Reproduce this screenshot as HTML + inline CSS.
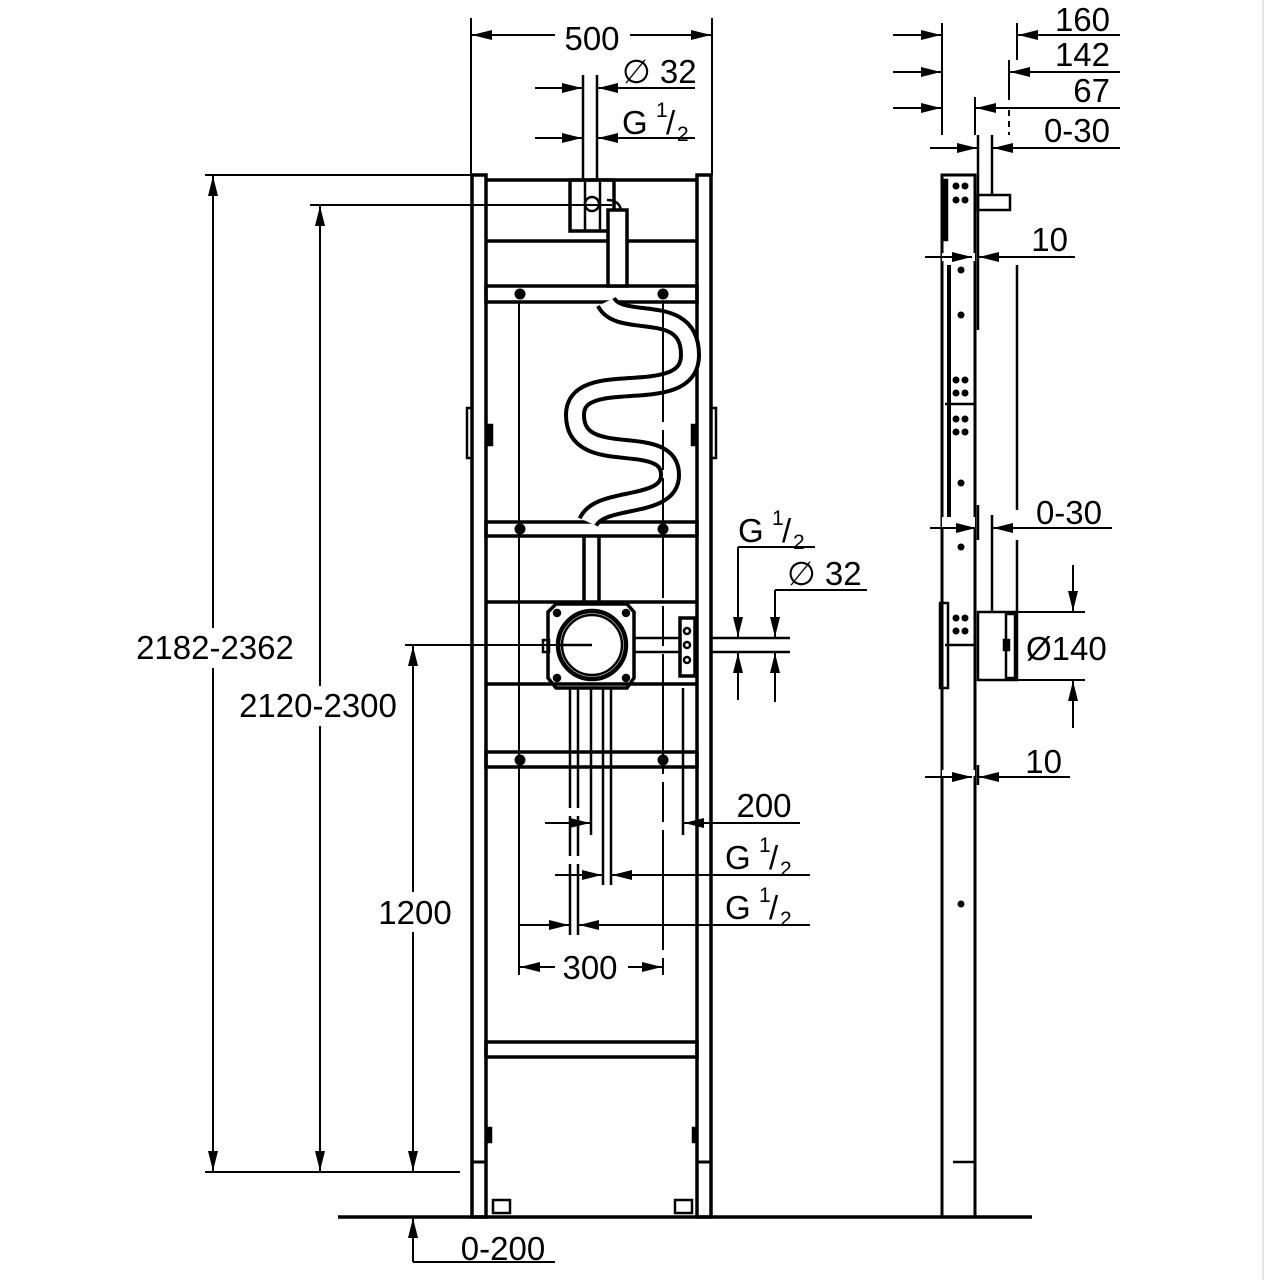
<!DOCTYPE html>
<html><head><meta charset="utf-8"><style>
html,body{margin:0;padding:0;background:#fff}
svg{display:block}
text{font-family:"Liberation Sans",Arial,sans-serif;font-size:33px;fill:#000}
.s{font-size:21px}
</style></head><body>
<svg width="1280" height="1280" viewBox="0 0 1280 1280" xmlns="http://www.w3.org/2000/svg">
<defs>
<marker id="a" viewBox="0 0 20 10" refX="20" refY="5" markerWidth="20" markerHeight="10" markerUnits="userSpaceOnUse" orient="auto"><path d="M0,0L20,5L0,10z" fill="#000"/></marker>
</defs>
<rect width="1280" height="1280" fill="#fff"/>
<line x1="1263" y1="0" x2="1263" y2="1280" stroke="#ccc" stroke-width="1"/>
<g stroke="#000" fill="none" stroke-width="2.5">
<line x1="338" y1="1217" x2="1032" y2="1217" stroke-width="3.5"/>
<rect x="472" y="175" width="14" height="1042" stroke-width="3.5"/>
<rect x="697" y="175" width="14" height="1042" stroke-width="3.5"/>
<line x1="472" y1="1162" x2="486" y2="1162" stroke-width="3"/>
<line x1="697" y1="1162" x2="711" y2="1162" stroke-width="3"/>
<rect x="467" y="408" width="5" height="50"/><rect x="711" y="408" width="5" height="50"/>
<rect x="487" y="425" width="5" height="20" fill="#000"/><rect x="692" y="425" width="5" height="20" fill="#000"/>
<rect x="487" y="1128" width="4" height="14" fill="#000"/><rect x="693" y="1128" width="4" height="14" fill="#000"/>
<rect x="493" y="1200" width="17" height="13"/><rect x="675" y="1200" width="17" height="13"/>
<line x1="486" y1="180" x2="697" y2="180" stroke-width="3.5"/>
<line x1="486" y1="241" x2="697" y2="241" stroke-width="3.5"/>
<rect x="486" y="286" width="211" height="16" stroke-width="3.5"/>
<rect x="486" y="522" width="211" height="14" stroke-width="3.5"/>
<line x1="486" y1="602" x2="697" y2="602" stroke-width="3.5"/>
<line x1="486" y1="684" x2="697" y2="684" stroke-width="3.5"/>
<rect x="486" y="752" width="211" height="15" stroke-width="3.5"/>
<rect x="486" y="1042" width="211" height="15" stroke-width="3.5"/>
<rect x="570" y="180" width="44" height="51" stroke-width="3.5"/>
<line x1="585" y1="182" x2="585" y2="230"/><line x1="600" y1="182" x2="600" y2="230"/>
<circle cx="592" cy="204" r="7"/>
<rect x="608" y="210" width="19" height="76" fill="#fff" stroke-width="3.5"/>
<path d="M607,200 q12,0 14,10"/>
<line x1="583" y1="75" x2="583" y2="180"/><line x1="597" y1="75" x2="597" y2="180"/>
<path d="M606,302 C620,330 690,300 690,355 C690,410 575,365 575,415 C575,470 670,430 670,475 C670,510 600,495 588,522" stroke-width="22"/>
<path d="M606,302 C620,330 690,300 690,355 C690,410 575,365 575,415 C575,470 670,430 670,475 C670,510 600,495 588,522" stroke="#fff" stroke-width="14"/>
<line x1="519" y1="302" x2="519" y2="975" stroke-width="2"/>
<line x1="663" y1="302" x2="663" y2="975" stroke-width="2" stroke-dasharray="120,8,40,8"/>
<line x1="584" y1="536" x2="584" y2="602" stroke-width="3.5"/><line x1="599" y1="536" x2="599" y2="602" stroke-width="3.5"/>
<path d="M556,604 L627,604 L634,612 L634,678 L627,688 L556,688 L548,678 L548,612 Z" stroke-width="3.5"/>
<circle cx="592" cy="645" r="34" stroke-width="4.5"/>
<circle cx="592" cy="645" r="30"/>
<rect x="543" y="640" width="6" height="12"/>
<circle cx="557" cy="613" r="3" fill="#000"/><circle cx="626" cy="613" r="3" fill="#000"/>
<circle cx="557" cy="678" r="3" fill="#000"/><circle cx="626" cy="678" r="3" fill="#000"/>
<line x1="560" y1="645" x2="592" y2="645"/>
<rect x="680" y="618" width="15" height="58" stroke-width="3.5"/>
<circle cx="687" cy="631" r="3"/><circle cx="687" cy="645" r="3"/><circle cx="687" cy="660" r="3"/>
<line x1="634" y1="638" x2="680" y2="638"/><line x1="634" y1="652" x2="680" y2="652"/>
<line x1="711" y1="638" x2="790" y2="638"/><line x1="711" y1="652" x2="790" y2="652"/>
<line x1="570" y1="688" x2="570" y2="935" stroke-dasharray="120,8,40,8"/>
<line x1="578" y1="688" x2="578" y2="935" stroke-dasharray="120,8,40,8"/>
<line x1="591" y1="688" x2="591" y2="835"/>
<line x1="603" y1="688" x2="603" y2="885"/><line x1="611" y1="688" x2="611" y2="885"/>
<line x1="683" y1="688" x2="683" y2="835"/>
</g>
<g fill="#000">
<circle cx="520" cy="294" r="5.5"/><circle cx="663" cy="294" r="5.5"/>
<circle cx="520" cy="529" r="5.5"/><circle cx="663" cy="529" r="5.5"/>
<circle cx="520" cy="760" r="5.5"/><circle cx="663" cy="760" r="5.5"/>
</g>

<g stroke="#000" fill="none" stroke-width="2.5">
<rect x="942" y="175" width="33" height="1042" stroke-width="3"/>
<line x1="949" y1="265" x2="949" y2="522" stroke-width="4"/>
<rect x="942" y="180" width="5" height="60" fill="#000"/>
<line x1="942" y1="257" x2="975" y2="257" stroke="#fff" stroke-width="8"/>
<line x1="942" y1="522" x2="975" y2="522" stroke="#fff" stroke-width="10"/>
<line x1="942" y1="773" x2="975" y2="773" stroke="#fff" stroke-width="6"/>
<line x1="945" y1="404" x2="975" y2="404"/>
<line x1="953" y1="1162" x2="975" y2="1162"/>
<rect x="978" y="195" width="32" height="15"/>
<line x1="978" y1="135" x2="978" y2="330"/>
<line x1="992" y1="135" x2="992" y2="195"/>
<rect x="978" y="612" width="39" height="68" fill="#fff"/>
<rect x="1006" y="614" width="9" height="64"/>
<rect x="1004" y="640" width="5" height="10" fill="#000"/>
<rect x="940" y="603" width="8" height="85"/>
<line x1="945" y1="645" x2="975" y2="645"/>
<line x1="1017" y1="265" x2="1017" y2="510"/>
<line x1="1017" y1="540" x2="1017" y2="612"/>
<line x1="992" y1="515" x2="992" y2="612"/>
<line x1="978" y1="505" x2="978" y2="540"/>
<line x1="978" y1="765" x2="978" y2="785"/>
</g>
<g fill="#000">
<circle cx="956" cy="186" r="3.5"/><circle cx="965" cy="186" r="3.5"/><circle cx="956" cy="200" r="3.5"/><circle cx="965" cy="200" r="3.5"/>
<circle cx="961" cy="270" r="3.5"/><circle cx="961" cy="315" r="3.5"/>
<circle cx="956" cy="380" r="3.5"/><circle cx="965" cy="380" r="3.5"/><circle cx="956" cy="393" r="3.5"/><circle cx="965" cy="393" r="3.5"/>
<circle cx="956" cy="419" r="3.5"/><circle cx="965" cy="419" r="3.5"/><circle cx="956" cy="432" r="3.5"/><circle cx="965" cy="432" r="3.5"/>
<circle cx="961" cy="483" r="3.5"/><circle cx="961" cy="547" r="3.5"/>
<circle cx="956" cy="618" r="3.5"/><circle cx="965" cy="618" r="3.5"/><circle cx="956" cy="631" r="3.5"/><circle cx="965" cy="631" r="3.5"/>
<circle cx="961" cy="904" r="3.5"/>
</g>

<g stroke="#000" fill="none" stroke-width="2">
<line x1="205" y1="175" x2="472" y2="175"/><line x1="205" y1="1172" x2="460" y2="1172"/>
<line x1="213" y1="628" x2="213" y2="176" marker-end="url(#a)"/><line x1="213" y1="668" x2="213" y2="1171" marker-end="url(#a)"/>
<line x1="310" y1="205" x2="612" y2="205"/>
<line x1="320" y1="686" x2="320" y2="206" marker-end="url(#a)"/><line x1="320" y1="726" x2="320" y2="1171" marker-end="url(#a)"/>
<line x1="405" y1="645" x2="592" y2="645"/>
<line x1="413" y1="892" x2="413" y2="646" marker-end="url(#a)"/><line x1="413" y1="932" x2="413" y2="1171" marker-end="url(#a)"/>
<line x1="413" y1="1262" x2="413" y2="1218" marker-end="url(#a)"/><line x1="413" y1="1262" x2="555" y2="1262"/>
<line x1="471" y1="18" x2="471" y2="175"/><line x1="712" y1="18" x2="712" y2="175"/>
<line x1="555" y1="35" x2="472" y2="35" marker-end="url(#a)"/><line x1="630" y1="35" x2="711" y2="35" marker-end="url(#a)"/>
<line x1="535" y1="88" x2="582" y2="88" marker-end="url(#a)"/><line x1="695" y1="88" x2="598" y2="88" marker-end="url(#a)"/>
<line x1="535" y1="138" x2="582" y2="138" marker-end="url(#a)"/><line x1="695" y1="138" x2="598" y2="138" marker-end="url(#a)"/>
<line x1="555" y1="967" x2="520" y2="967" marker-end="url(#a)"/><line x1="628" y1="967" x2="662" y2="967" marker-end="url(#a)"/>
<line x1="545" y1="823" x2="590" y2="823" marker-end="url(#a)"/><line x1="800" y1="823" x2="684" y2="823" marker-end="url(#a)"/>
<line x1="555" y1="875" x2="602" y2="875" marker-end="url(#a)"/><line x1="810" y1="875" x2="612" y2="875" marker-end="url(#a)"/>
<line x1="519" y1="925" x2="569" y2="925" marker-end="url(#a)"/><line x1="810" y1="925" x2="579" y2="925" marker-end="url(#a)"/>
<line x1="815" y1="547" x2="738" y2="547"/><line x1="738" y1="547" x2="738" y2="637" marker-end="url(#a)"/>
<line x1="738" y1="700" x2="738" y2="653" marker-end="url(#a)"/>
<line x1="867" y1="590" x2="775" y2="590"/><line x1="775" y1="590" x2="775" y2="637" marker-end="url(#a)"/>
<line x1="775" y1="702" x2="775" y2="653" marker-end="url(#a)"/>
<line x1="942" y1="23" x2="942" y2="135"/><line x1="1017" y1="23" x2="1017" y2="60"/>
<line x1="1009" y1="60" x2="1009" y2="100"/><line x1="1009" y1="110" x2="1009" y2="135" stroke-dasharray="6,5"/>
<line x1="975" y1="97" x2="975" y2="135"/>
<line x1="893" y1="35" x2="941" y2="35" marker-end="url(#a)"/><line x1="1120" y1="35" x2="1018" y2="35" marker-end="url(#a)"/>
<line x1="893" y1="72" x2="941" y2="72" marker-end="url(#a)"/><line x1="1120" y1="72" x2="1010" y2="72" marker-end="url(#a)"/>
<line x1="893" y1="108" x2="941" y2="108" marker-end="url(#a)"/><line x1="1120" y1="108" x2="976" y2="108" marker-end="url(#a)"/>
<line x1="930" y1="148" x2="977" y2="148" marker-end="url(#a)"/><line x1="1120" y1="148" x2="993" y2="148" marker-end="url(#a)"/>
<line x1="925" y1="257" x2="972" y2="257" marker-end="url(#a)"/><line x1="1075" y1="257" x2="979" y2="257" marker-end="url(#a)"/>
<line x1="930" y1="528" x2="976" y2="528" marker-end="url(#a)"/><line x1="1112" y1="528" x2="993" y2="528" marker-end="url(#a)"/>
<line x1="925" y1="777" x2="972" y2="777" marker-end="url(#a)"/><line x1="1070" y1="777" x2="979" y2="777" marker-end="url(#a)"/>
<line x1="1017" y1="612" x2="1085" y2="612"/><line x1="1017" y1="680" x2="1085" y2="680"/>
<line x1="1073" y1="565" x2="1073" y2="611" marker-end="url(#a)"/><line x1="1073" y1="728" x2="1073" y2="681" marker-end="url(#a)"/>
</g>

<text x="215" y="659" text-anchor="middle">2182-2362</text>
<text x="318" y="717" text-anchor="middle">2120-2300</text>
<text x="415" y="924" text-anchor="middle">1200</text>
<text x="592" y="50" text-anchor="middle">500</text>
<text x="622" y="83">∅ 32</text>
<text x="622" y="134">G</text><text class="s" x="656" y="117">1</text><text x="666" y="134">/</text><text class="s" x="677" y="141">2</text>
<text x="590" y="979" text-anchor="middle">300</text>
<text x="503" y="1260" text-anchor="middle">0-200</text>
<text x="764" y="817" text-anchor="middle">200</text>
<text x="725" y="869">G</text><text class="s" x="759" y="852">1</text><text x="769" y="869">/</text><text class="s" x="780" y="876">2</text>
<text x="725" y="919">G</text><text class="s" x="759" y="902">1</text><text x="769" y="919">/</text><text class="s" x="780" y="926">2</text>
<text x="738" y="542">G</text><text class="s" x="772" y="525">1</text><text x="782" y="542">/</text><text class="s" x="793" y="549">2</text>
<text x="787" y="585">∅ 32</text>
<text x="1110" y="31" text-anchor="end">160</text>
<text x="1110" y="66" text-anchor="end">142</text>
<text x="1110" y="102" text-anchor="end">67</text>
<text x="1110" y="142" text-anchor="end">0-30</text>
<text x="1068" y="251" text-anchor="end">10</text>
<text x="1102" y="524" text-anchor="end">0-30</text>
<text x="1062" y="773" text-anchor="end">10</text>
<text x="1026" y="660">Ø140</text>
</svg>
</body></html>
